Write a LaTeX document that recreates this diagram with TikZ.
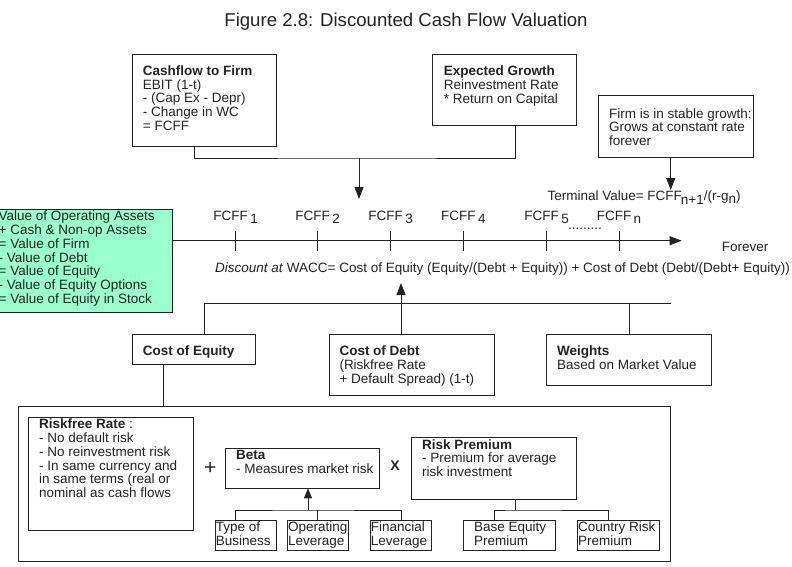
\documentclass[tikz,border=0pt]{standalone}
\usepackage{fontspec}
\setmainfont{Liberation Sans}
\usetikzlibrary{arrows.meta}
\definecolor{mint}{HTML}{99FFCC}
\definecolor{ink}{HTML}{222222}
\begin{document}
\begin{tikzpicture}[x=1pt,y=-1pt,
  box/.style={draw=ink, line width=0.9pt, inner sep=0pt, outer sep=0pt, anchor=north west},
  txt/.style={inner sep=0pt, anchor=north west, align=left, text=ink, font=\fontsize{13.5}{13.7}\selectfont},
  lbl/.style={inner sep=0pt, text=ink, font=\fontsize{13.5}{13.7}\selectfont},
  ln/.style={draw=ink, line width=0.9pt},
  arr/.style={draw=ink, line width=0.9pt, -{Triangle[length=12pt,width=9pt]}},
  sarr/.style={draw=ink, line width=0.9pt, -{Triangle[length=10pt,width=8pt]}}]
\useasboundingbox (0,0) rectangle (792,567);

% title
\node[lbl, font=\fontsize{18.6}{22}\selectfont] (title) at (406,22) {Figure 2.8: Discounted Cash Flow Valuation};

% top boxes
\node[box, minimum width=144pt, minimum height=92pt] (cf) at (132,54) {};
\node[txt] (cft) at (142.7,65.5) {\textbf{Cashflow to Firm}\\EBIT (1-t)\\- (Cap Ex - Depr)\\- Change in WC\\= FCFF};
\node[box, minimum width=144pt, minimum height=71.4pt] (eg) at (432.7,54.3) {};
\node[txt] (egt) at (443.7,66) {\textbf{Expected Growth}\\Reinvestment Rate\\* Return on Capital};
\node[box, minimum width=154.3pt, minimum height=61.6pt] (sg) at (598.7,95.7) {};
\node[txt] (sgt) at (609,108.3) {Firm is in stable growth:\\Grows at constant rate\\forever};

\coordinate (j1) at (359,158);
\coordinate (j1e) at (359,199);
\draw[ln] ([xshift=62pt]cf.south west) |- (j1) -| ([xshift=83pt]eg.south west);
\draw[arr] (j1) -- (j1e);
\coordinate (tvtip) at (670.7,190);
\draw[arr] ([xshift=72pt]sg.south west) -- (tvtip);
\node[lbl, anchor=base west] (tv) at (547.3,200) {Terminal Value= FCFF\kern-1pt\raisebox{-4pt}{n+1}/(r-g\raisebox{-3.5pt}{n})};

% green box
\node[box, fill=mint, minimum width=175.3pt, minimum height=103pt] (gr) at (-3,209.3) {};
\node[txt] (grt) at (-1.5,211) {Value of Operating Assets\\+ Cash \& Non-op Assets\\= Value of Firm\\- Value of Debt\\= Value of Equity\\- Value of Equity Options\\= Value of Equity in Stock};

% timeline
\coordinate (t0) at (172,240.7);
\coordinate (t1) at (681.7,240.7);
\draw[arr] (t0) -- (t1);
\foreach \x/\s/\n in {235.7/1/a, 317.7/2/b, 390.7/3/c, 463.3/4/d, 546.7/5/e, 619/n/f} {
  \draw[ln] (\x,230.7) -- (\x,251);
  \node[lbl, anchor=base] (fc\n) at (\x,220) {FCFF\kern2.5pt\raisebox{-3pt}{\s}};
}
\node[lbl, anchor=base west] (dots) at (568,229.5) {.........};
\node[lbl] (fv) at (745,246.7) {Forever};
\node[lbl, anchor=base west] (wacc) at (215,272.3) {\textit{Discount at} WACC= Cost of Equity (Equity/(Debt + Equity)) + Cost of Debt (Debt/(Debt+ Equity))};

% middle boxes
\node[box, minimum width=123.7pt, minimum height=30pt] (ce) at (132,334) {};
\node[txt] (cet) at (142.7,345.7) {\textbf{Cost of Equity}};
\node[box, minimum width=165pt, minimum height=61pt] (cd) at (329,334) {};
\node[txt] (cdt) at (339.3,345.7) {\textbf{Cost of Debt}\\(Riskfree Rate\\+ Default Spread) (1-t)};
\node[box, minimum width=165pt, minimum height=51pt] (wt) at (546.7,334) {};
\node[txt] (wtt) at (557,345.7) {\textbf{Weights}\\Based on Market Value};

\coordinate (barR) at (670.7,303);
\coordinate (wtip) at (401,283);
\draw[ln] ([xshift=72pt]ce.north west) |- (barR);
\draw[ln] ([xshift=82.3pt]wt.north west) -- ++(0,-31);
\draw[arr] ([xshift=72pt]cd.north west) -- (wtip);

% big box
\node[box, minimum width=652pt, minimum height=155pt] (big) at (18,406.7) {};
\draw[ln] ([xshift=31pt]ce.south west) -- ([xshift=31pt]ce.south west |- big.north);

\node[box, minimum width=165.7pt, minimum height=112.7pt] (rf) at (28,417.3) {};
\node[txt] (rft) at (39,419) {\textbf{Riskfree Rate} :\\- No default risk\\- No reinvestment risk\\- In same currency and\\in same terms (real or\\nominal as cash flows};
\node[inner sep=0pt, text=ink, font=\fontsize{21}{21}\selectfont] (plus) at (210.3,468.3) {+};
\node[inner sep=0pt, text=ink, font=\fontsize{14}{14}\selectfont\bfseries] (times) at (395,466) {X};
\node[box, minimum width=154.4pt, minimum height=40pt] (beta) at (225.3,448.3) {};
\node[txt] (betat) at (236,450) {\textbf{Beta}\\- Measures market risk};
\node[box, minimum width=165pt, minimum height=61.3pt] (rp) at (411.7,437.7) {};
\node[txt] (rpt) at (422,439.3) {\textbf{Risk Premium}\\- Premium for average\\risk investment};

\node[box, minimum width=61.3pt, minimum height=30pt] (tb) at (215,520.7) {};
\node[txt] (tbt) at (215.7,522) {Type of\\Business};
\node[box, minimum width=61.4pt, minimum height=30pt] (ol) at (287.3,520.7) {};
\node[txt] (olt) at (288,522) {Operating\\Leverage};
\node[box, minimum width=61.7pt, minimum height=30pt] (fl) at (370,520.7) {};
\node[txt] (flt) at (370.7,522) {Financial\\Leverage};
\node[box, minimum width=92.4pt, minimum height=30pt] (be) at (463.3,520.7) {};
\node[txt] (bet) at (474,522) {Base Equity\\Premium};
\node[box, minimum width=82pt, minimum height=30pt] (cr) at (577.3,520.7) {};
\node[txt] (crt) at (578,522) {Country Risk\\Premium};

\coordinate (bj) at (308,510);
\draw[ln] ([xshift=20.3pt]tb.north west) |- (bj) -| ([xshift=31pt]fl.north west);
\draw[ln] ([xshift=30.4pt]ol.north west) -- ([xshift=30.4pt]ol.north west |- bj);
\draw[sarr] (bj) -- (bj |- beta.south);
\coordinate (rj) at (515,510);
\draw[ln] ([xshift=31pt]be.north west) |- (rj) -| ([xshift=31pt]cr.north west);
\draw[ln] (rj) -- (rj |- rp.south);
\end{tikzpicture}
\end{document}
